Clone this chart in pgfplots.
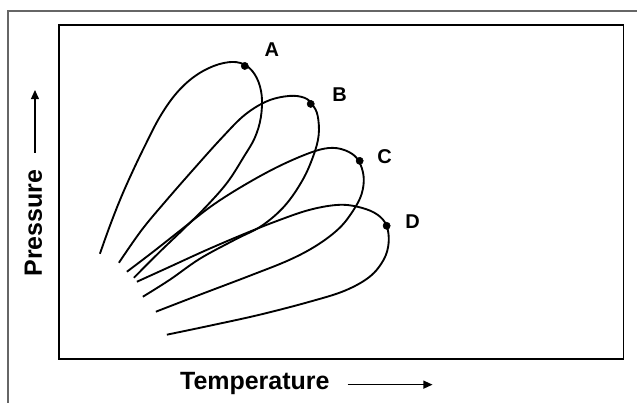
\documentclass[border=0pt]{standalone}
\usepackage{fontspec}
\setmainfont{Liberation Sans}
\usepackage{pgfplots}
\pgfplotsset{compat=1.18}
\usetikzlibrary{arrows.meta}
\begin{document}
\begin{tikzpicture}
\begin{axis}[
  scale only axis, width=423.75pt, height=250.5pt,
  xmin=59, xmax=624, ymin=25, ymax=359, y dir=reverse,
  xtick=\empty, ytick=\empty,
  axis line style={line width=1.3pt, black},
  clip=false,
]
% bounding box and outer frame
\path (axis cs:0,0) rectangle (axis cs:638,403);
\draw[line width=0.9pt, black!60] (axis cs:8,403) -- (axis cs:8,11) -- (axis cs:638,11);
% Envelope A
\addplot[black, line width=1.4pt, smooth, tension=0.6, no marks] coordinates {
(100,254) (110,226) (121,198) (133,171) (146,144) (160,117) (176,94) (194,77) (214,66) (233,62) (247,66) (257,78) (262,96) (261,118) (255,138) (244,157) (228,182) (208,205) (185,228) (160,252) (134,278)
};
% Envelope B
\addplot[black, line width=1.4pt, smooth, tension=0.6, no marks] coordinates {
(119,263) (142,230) (167,200) (195,168) (222,138) (245,115) (268,101) (290,96) (305,98) (313,105) (318,116) (319,135) (314,155) (303,180) (285,206) (262,226) (235,240) (200,259) (170,280) (143,297)
};
% Envelope C
\addplot[black, line width=1.4pt, smooth, tension=0.6, no marks] coordinates {
(127,272) (152,253) (180,231) (212,206) (245,185) (280,166) (313,152) (333,148) (349,152) (359,161) (364,177) (362,194) (354,210) (340,228) (318,245) (290,260) (250,276) (200,295) (156,312)
};
% Envelope D
\addplot[black, line width=1.4pt, smooth, tension=0.6, no marks] coordinates {
(137,282) (170,267) (205,251) (240,236) (275,222) (310,210) (340,205) (362,208) (378,215) (387,226) (389,243) (384,260) (370,277) (345,291) (310,302) (260,315) (210,326) (167,335)
};
% critical points
\addplot[only marks, mark=*, mark size=2.7pt, black] coordinates {(245,66) (311,104) (360,161) (387,226)};
% point labels
\node[font=\bfseries\fontsize{15}{16}\selectfont] at (axis cs:272,50) {A};
\node[font=\bfseries\fontsize{15}{16}\selectfont] at (axis cs:340,95) {B};
\node[font=\bfseries\fontsize{15}{16}\selectfont] at (axis cs:385,157) {C};
\node[font=\bfseries\fontsize{15}{16}\selectfont] at (axis cs:413,222) {D};
% axis titles
\node[font=\bfseries\fontsize{18.75}{20}\selectfont, anchor=base west, inner sep=0pt] at (axis cs:180,390) {Temperature};
\draw[line width=1.2pt, -{Triangle[length=7pt,width=6pt]}] (axis cs:348,385) -- (axis cs:433,385);
\node[font=\bfseries\fontsize{18.75}{20}\selectfont, anchor=base west, inner sep=0pt, rotate=90] at (axis cs:42,277) {Pressure};
\draw[line width=1.2pt, -{Triangle[length=7pt,width=6pt]}] (axis cs:35,153) -- (axis cs:35,90);
\end{axis}
\end{tikzpicture}
\end{document}
